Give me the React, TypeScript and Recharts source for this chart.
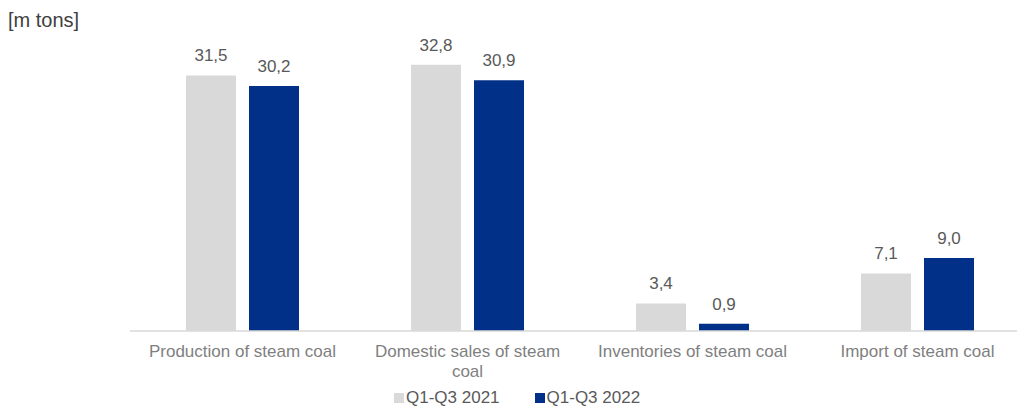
import React from 'react'
import { BarChart, Bar, XAxis, YAxis, LabelList, Text } from 'recharts'

const categories = [
  'Production of steam coal',
  'Domestic sales of steam coal',
  'Inventories of steam coal',
  'Import of steam coal',
]
const q2021 = [31.5, 32.8, 3.4, 7.1]
const q2022 = [30.2, 30.9, 0.9, 9.0]
const seriesNames = ['Q1-Q3 2021', 'Q1-Q3 2022']
const colors = ['#d9d9d9', '#003087']

const data = categories.map((c, i) => ({ name: c, a: q2021[i], b: q2022[i] }))

const fmt = (v: any) => Number(v).toFixed(1).replace('.', ',')
const font = '"Liberation Sans", Arial, sans-serif'

const Tick = (props: any) => {
  const { x, y, payload } = props
  return (
    <Text
      x={x}
      y={y}
      width={205}
      textAnchor="middle"
      verticalAnchor="start"
      lineHeight={20}
      fontSize={17}
      fontFamily={font}
      style={{ fontSize: 17, fontFamily: font }}
      fill="#7f7f7f"
    >
      {payload.value}
    </Text>
  )
}

export default function App() {
  return (
    <div
      style={{
        position: 'absolute',
        left: 0,
        top: 0,
        width: 1017,
        height: 409,
        overflow: 'hidden',
        background: '#fff',
        fontFamily: font,
      }}
    >
      <div style={{ position: 'absolute', left: 8, top: 9, fontSize: 20, color: '#404040' }}>
        [m tons]
      </div>
      <BarChart
        width={1040}
        height={409}
        data={data}
        margin={{ top: 47, right: 10, bottom: 18, left: 130 }}
        barGap={13}
        barCategoryGap={56}
      >
        <XAxis
          dataKey="name"
          axisLine={{ stroke: '#d9d9d9', strokeWidth: 1.5 }}
          tickLine={false}
          tickSize={0}
          tickMargin={14}
          height={60}
          interval={0}
          tick={<Tick />}
        />
        <YAxis hide domain={[0, 35]} />
        <Bar dataKey="a" fill={colors[0]} barSize={50} isAnimationActive={false}>
          <LabelList dataKey="a" position="top" offset={14} formatter={fmt} fill="#595959" fontSize={17} fontFamily={font} />
        </Bar>
        <Bar dataKey="b" fill={colors[1]} barSize={50} isAnimationActive={false}>
          <LabelList dataKey="b" position="top" offset={14} formatter={fmt} fill="#595959" fontSize={17} fontFamily={font} />
        </Bar>
      </BarChart>
      <div
        style={{
          position: 'absolute',
          top: 388,
          left: 394,
          display: 'flex',
          fontSize: 17,
          color: '#595959',
          lineHeight: '20px',
        }}
      >
        {seriesNames.map((n, i) => (
          <div key={n} style={{ display: 'flex', alignItems: 'center', marginRight: 35 }}>
            <span style={{ width: 10, height: 10, background: colors[i], display: 'inline-block', marginRight: 2 }} />
            {n}
          </div>
        ))}
      </div>
    </div>
  )
}
